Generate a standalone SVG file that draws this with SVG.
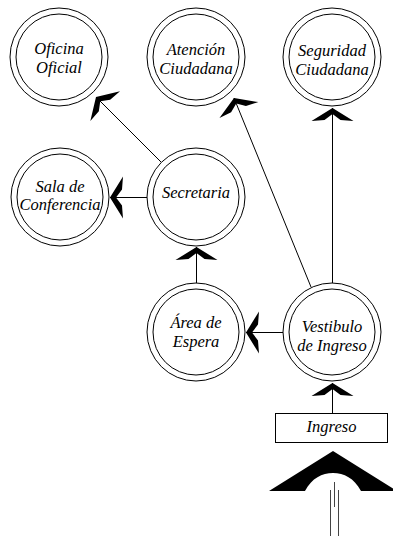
<svg xmlns="http://www.w3.org/2000/svg" width="393" height="536" viewBox="0 0 393 536">
<style>
.o{fill:#fff;stroke:#000;stroke-width:1}
.t{font-family:"Liberation Serif","Times New Roman",serif;font-style:italic;font-size:16.5px;fill:#000;text-anchor:middle}
.e{stroke:#000;stroke-width:1;fill:none;marker-end:url(#ah)}
.g{stroke:#444;stroke-width:1;fill:none}
</style>
<defs>
<marker id="ah" markerUnits="userSpaceOnUse" orient="auto" viewBox="-14 -22 15 44" markerWidth="15" markerHeight="44" refX="0" refY="0" overflow="visible">
<path d="M0,0 L-13,-21 L-12,-8 L-6,0 L-12,8 L-13,21 Z" fill="#000"/>
</marker>
</defs>
<g id="connectors">
<line class="e" x1="161" y1="162" x2="96" y2="97"/>
<line class="e" x1="311" y1="287" x2="234" y2="98"/>
<line class="e" x1="332.5" y1="283" x2="332.5" y2="108"/>
<line class="e" x1="283" y1="332.5" x2="246" y2="332.5"/>
<line class="e" x1="196.5" y1="283" x2="196.5" y2="247"/>
<line class="e" x1="147" y1="197.5" x2="110" y2="197.5"/>
<line class="e" x1="332.5" y1="413" x2="332.5" y2="383"/>
</g>
<g id="oficina">
<circle class="o" cx="59" cy="57" r="49"/><circle class="o" cx="59" cy="57" r="43"/>
<text class="t"><tspan x="59" y="54">Oficina</tspan><tspan x="59" y="72.5">Oficial</tspan></text>
</g>
<g id="atencion">
<circle class="o" cx="196" cy="57" r="49"/><circle class="o" cx="196" cy="57" r="43"/>
<text class="t"><tspan x="196" y="55">Atención</tspan><tspan x="196" y="73.5">Ciudadana</tspan></text>
</g>
<g id="seguridad">
<circle class="o" cx="332" cy="57" r="49"/><circle class="o" cx="332" cy="57" r="43"/>
<text class="t"><tspan x="332" y="56">Seguridad</tspan><tspan x="332" y="74.5">Ciudadana</tspan></text>
</g>
<g id="sala">
<circle class="o" cx="60" cy="197" r="49"/><circle class="o" cx="60" cy="197" r="43"/>
<text class="t"><tspan x="60" y="191.5">Sala de</tspan><tspan x="60" y="210">Conferencia</tspan></text>
</g>
<g id="secretaria">
<circle class="o" cx="196" cy="197" r="49"/><circle class="o" cx="196" cy="197" r="43"/>
<text class="t" x="196" y="198">Secretaria</text>
</g>
<g id="area">
<circle class="o" cx="196" cy="332" r="49"/><circle class="o" cx="196" cy="332" r="43"/>
<text class="t"><tspan x="196" y="328">Área de</tspan><tspan x="196" y="346.5">Espera</tspan></text>
</g>
<g id="vestibulo">
<circle class="o" cx="332" cy="332" r="49"/><circle class="o" cx="332" cy="332" r="43"/>
<text class="t"><tspan x="332" y="332">Vestibulo</tspan><tspan x="332" y="350.5">de Ingreso</tspan></text>
</g>
<g id="ingreso">
<rect class="o" x="275.5" y="413.5" width="112" height="29"/>
<text class="t" x="331.5" y="432">Ingreso</text>
</g>
<g id="entrada">
<path d="M333,451 L269,491 L305,491 C312,478 322,473 333,473 C344,473 354,478 361,491 L397,491 Z" fill="#000"/>
<line class="g" x1="330.5" y1="490" x2="330.5" y2="536"/>
<line class="g" x1="334.5" y1="482" x2="334.5" y2="507"/>
<line class="g" x1="338.5" y1="490" x2="338.5" y2="536"/>
</g>
</svg>
